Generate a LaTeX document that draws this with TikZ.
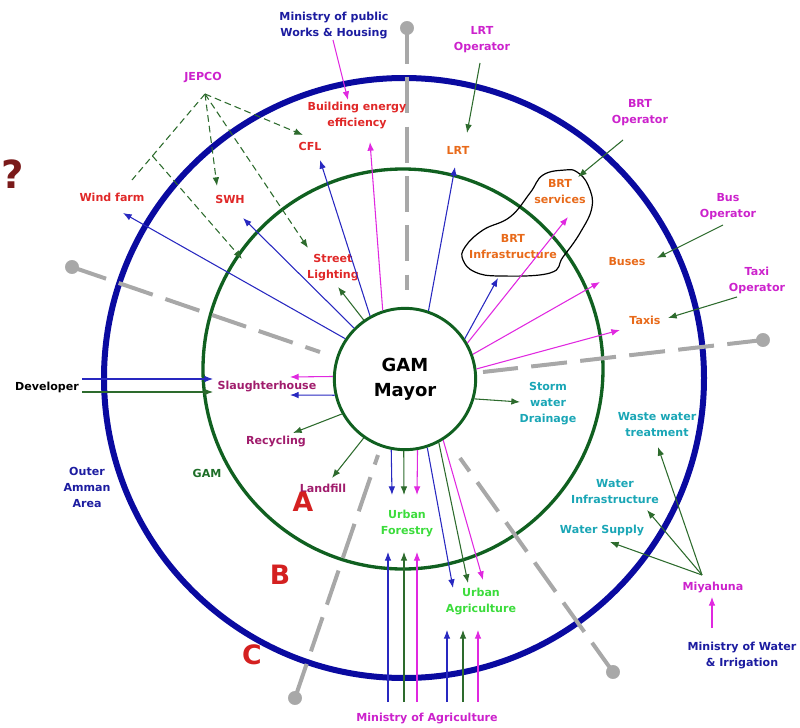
\documentclass[tikz,border=0pt]{standalone}
\usepackage{fontspec}
\setmainfont{DejaVu Sans}
\usetikzlibrary{arrows.meta}
\definecolor{ringblue}{HTML}{0A0AA0}
\definecolor{ringgreen}{HTML}{106020}
\definecolor{pingray}{HTML}{A8A8A8}
\definecolor{arblue}{HTML}{2828C0}
\definecolor{argreen}{HTML}{2D6B2D}
\definecolor{armag}{HTML}{E028E0}
\definecolor{lred}{HTML}{E02828}
\definecolor{lorange}{HTML}{E86A1A}
\definecolor{lmag}{HTML}{CC22CC}
\definecolor{lpurple}{HTML}{A01C6C}
\definecolor{lcyan}{HTML}{1AA6B6}
\definecolor{llime}{HTML}{3CDC3C}
\definecolor{lblue}{HTML}{1C1CA0}
\definecolor{lgreen}{HTML}{1E6E28}
\definecolor{letterred}{HTML}{D42020}
\definecolor{qred}{HTML}{7A1A1A}

\begin{document}
\begin{tikzpicture}[x=0.75pt,y=-0.75pt,
  lbl/.style={font=\bfseries\fontsize{8.3}{12}\selectfont,align=center,inner sep=1pt},
  arr/.style={-{Latex[length=6.5pt,width=5pt]},line width=0.8pt},
  jline/.style={draw=argreen,line width=0.8pt,dash pattern=on 5pt off 3pt},
  pin/.style={draw=pingray,line width=3pt,dash pattern=on 27pt off 10pt},
  bigl/.style={font=\bfseries\fontsize{20}{24}\selectfont,text=letterred,inner sep=0pt}]

\useasboundingbox (0,0) rectangle (800,728);

\coordinate (O) at (404,378);
\coordinate (G) at (403,369);
\draw[ringblue,line width=4.5pt] (O) circle (225pt);
\draw[ringgreen,line width=2.5pt] (G) circle (150pt);

\coordinate (P1) at (407,28);  \coordinate (Q1) at (407,290);
\coordinate (P2) at (72,267);  \coordinate (Q2) at (320,352);
\coordinate (P3) at (763,340); \coordinate (Q3) at (483,372);
\coordinate (P4) at (295,698); \coordinate (Q4) at (378,455);
\coordinate (P5) at (613,672); \coordinate (Q5) at (460,458);
\foreach \p/\q in {P1/Q1,P2/Q2,P3/Q3,P4/Q4,P5/Q5}{
  \draw[pin] (\p) -- (\q);
  \filldraw[pingray] (\p) circle (5pt);
}

\node[circle,draw=ringgreen,line width=2.2pt,minimum size=106pt,fill=white,
  font=\bfseries\fontsize{13.5}{19}\selectfont,align=center] (mayor) at (405,379) {GAM\\Mayor};

\node[lbl,text=lblue] (mpw) at (334,25) {Ministry of public\\Works \& Housing};
\node[lbl,text=lmag] (jepco) at (203,78) {JEPCO};
\node[lbl,text=lred] (bee) at (357,115) {Building energy\\efficiency};
\node[lbl,text=lred] (cfl) at (310,146) {CFL};
\node[lbl,text=lmag] (lrtop) at (482,40) {LRT\\Operator};
\node[lbl,text=lorange] (lrt) at (458,150) {LRT};
\node[lbl,text=lmag] (brtop) at (640,113) {BRT\\Operator};
\node[lbl,text=lorange] (brtserv) at (560,192) {BRT\\services};
\node[lbl,text=lorange] (brtinfra) at (513,247) {BRT\\Infrastructure};
\node[lbl,text=lmag] (busop) at (728,207) {Bus\\Operator};
\node[lbl,text=lorange] (buses) at (627,262) {Buses};
\node[lbl,text=lmag] (taxiop) at (757,280) {Taxi\\Operator};
\node[lbl,text=lorange] (taxis) at (645,320) {Taxis};
\node[lbl,text=lred] (windfarm) at (112,197) {Wind farm};
\node[lbl,text=lred] (swh) at (230,199) {SWH};
\node[lbl,text=lred] (street) at (333,268) {Street\\Lighting};
\node[lbl,text=black] (developer) at (47,387) {Developer};
\node[lbl,text=lpurple] (slaughter) at (267,386) {Slaughterhouse};
\node[lbl,text=lpurple] (recycling) at (276,441) {Recycling};
\node[lbl,text=lpurple] (landfill) at (323,488) {Landfill};
\node[lbl,text=lgreen] (gam) at (207,473) {GAM};
\node[lbl,text=lblue] (outer) at (87,487) {Outer\\Amman\\Area};
\node[lbl,text=lcyan] (storm) at (548,404) {Storm\\water\\Drainage};
\node[lbl,text=lcyan] (waste) at (657,425) {Waste water\\treatment};
\node[lbl,text=lcyan] (winfra) at (615,492) {Water\\Infrastructure};
\node[lbl,text=lcyan] (wsupply) at (602,530) {Water Supply};
\node[lbl,text=lmag] (miyahuna) at (713,587) {Miyahuna};
\node[lbl,text=lblue] (mwi) at (742,655) {Ministry of Water\\\& Irrigation};
\node[lbl,text=llime] (urbanfor) at (407,523) {Urban\\Forestry};
\node[lbl,text=llime] (urbanagr) at (481,601) {Urban\\Agriculture};
\node[lbl,text=lmag] (minag) at (427,718) {Ministry of Agriculture};

\node[bigl] (A) at (303,502) {A};
\node[bigl] (B) at (280,575) {B};
\node[bigl] (C) at (252,655) {C};
\node[font=\bfseries\fontsize{29}{29}\selectfont,text=qred,inner sep=0pt,anchor=base west] (q) at (1,188) {?};

\draw[line width=0.9pt] plot[smooth cycle,tension=0.7] coordinates {(565,170) (577,172) (588,185) (592,207) (580,233) (563,257) (550,273) (500,276) (475,272) (463,260) (465,247) (483,230) (510,217) (530,193) (543,175)};

\draw[arr,arblue] (mayor.146) -- ([shift={(11,16)}]windfarm.center);
\draw[arr,arblue] (mayor.135) -- ([shift={(13,19)}]swh.center);
\draw[arr,arblue] (mayor.119) -- ([shift={(10,14)}]cfl.center);
\draw[arr,armag] (mayor.108) -- ([shift={(13,27)}]bee.center);
\draw[arr,argreen] (mayor.125) -- ([shift={(5,19)}]street.center);
\draw[arr,arblue] (mayor.71) -- ([shift={(-3,17)}]lrt.center);
\draw[arr,arblue] (mayor.34) -- ([shift={(-15,31)}]brtinfra.center);
\draw[arr,armag] (mayor.30) -- ([shift={(8,25)}]brtserv.center);
\draw[arr,armag] (mayor.20) -- ([shift={(-27,20)}]buses.center);
\draw[arr,armag] (mayor.8) -- ([shift={(-25,10)}]taxis.center);
\draw[arr,argreen] (mayor.-16) -- ([shift={(-28,-2)}]storm.center);
\draw[arr,armag] (mayor.178) -- ([shift={(23,-9)}]slaughter.center);
\draw[arr,arblue] (mayor.193) -- ([shift={(23,9)}]slaughter.center);
\draw[arr,argreen] (mayor.209) -- ([shift={(17,-8)}]recycling.center);
\draw[arr,argreen] (mayor.235) -- ([shift={(9,-10)}]landfill.center);
\draw[arr,arblue] (mayor.259) -- ([shift={(-15,-28)}]urbanfor.center);
\draw[arr,argreen] (mayor.269) -- ([shift={(-3,-28)}]urbanfor.center);
\draw[arr,armag] (mayor.280) -- ([shift={(10,-28)}]urbanfor.center);
\draw[arr,arblue] (mayor.288) -- ([shift={(-28,-13)}]urbanagr.center);
\draw[arr,argreen] (mayor.298) -- ([shift={(-13,-18)}]urbanagr.center);
\draw[arr,armag] (mayor.302) -- ([shift={(2,-21)}]urbanagr.center);

\foreach \a/\b/\c in {-39/-19/arblue,-23/-3/argreen,-10/10/armag}
  \draw[arr,\c] ([shift={(\a,-16)}]minag.center) -- ([shift={(\b,29)}]urbanfor.center);
\foreach \a/\b/\c in {20/-34/arblue,36/-18/argreen,51/-3/armag}
  \draw[arr,\c] ([shift={(\a,-16)}]minag.center) -- ([shift={(\b,29)}]urbanagr.center);

\draw[arr,arblue] ([shift={(35,-8)}]developer.center) -- ([shift={(-54,-7)}]slaughter.center);
\draw[arr,argreen] ([shift={(35,5)}]developer.center) -- ([shift={(-54,6)}]slaughter.center);

\draw[arr,armag] ([shift={(-1,15)}]mpw.center) -- ([shift={(-9,-15)}]bee.center);
\draw[arr,argreen] ([shift={(-2,23)}]lrtop.center) -- ([shift={(9,-17)}]lrt.center);
\draw[arr,argreen] ([shift={(-17,27)}]brtop.center) -- ([shift={(18,-15)}]brtserv.center);
\draw[arr,argreen] ([shift={(-5,18)}]busop.center) -- ([shift={(30,-4)}]buses.center);
\draw[arr,argreen] ([shift={(-20,17)}]taxiop.center) -- ([shift={(23,-2)}]taxis.center);

\draw[arr,argreen] ([shift={(-11,-12)}]miyahuna.center) -- ([shift={(1,22)}]waste.center);
\draw[arr,argreen] ([shift={(-11,-12)}]miyahuna.center) -- ([shift={(32,18)}]winfra.center);
\draw[arr,argreen] ([shift={(-11,-12)}]miyahuna.center) -- ([shift={(8,12)}]wsupply.center);
\draw[arr,armag] ([shift={(-30,-27)}]mwi.center) -- ([shift={(-1,10)}]miyahuna.center);

\coordinate (J0) at ([shift={(2,16)}]jepco.center);
\coordinate (jring) at (242,259);
\draw[jline] (J0) -- coordinate[pos=0.72] (jb) ([shift={(20,-17)}]windfarm.center);
\draw[jline,arr] (J0) -- ([shift={(-13,-13)}]swh.center);
\draw[jline,arr] (J0) -- ([shift={(-7,-11)}]cfl.center);
\draw[jline,arr] (J0) -- ([shift={(-25,-20)}]street.center);
\draw[jline,arr] (jb) -- (jring);

\end{tikzpicture}
\end{document}
